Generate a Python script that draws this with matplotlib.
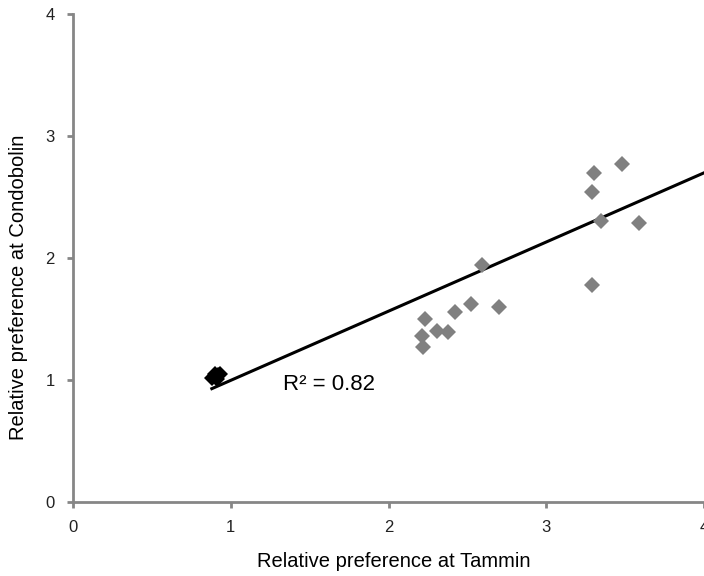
import numpy as np
import matplotlib
matplotlib.use("Agg")
from matplotlib import pyplot as plt

# gray points (Tammin, Condobolin)
tammin = [3.30, 3.48, 3.29, 3.35, 3.59, 3.29, 2.59, 2.52, 2.70, 2.42, 2.23, 2.21, 2.31, 2.38, 2.22]
condobolin = [2.70, 2.77, 2.54, 2.30, 2.29, 1.78, 1.94, 1.62, 1.60, 1.56, 1.50, 1.36, 1.40, 1.39, 1.27]

# black cluster near 1
ctrl_x = [0.88, 0.90, 0.92, 0.93, 0.91]
ctrl_y = [1.02, 1.05, 1.04, 1.05, 1.01]

# linear trendline
trend_slope = 0.567
trend_icpt = 0.43
trend_range = [0.88, 4.0]

axis_col = "#868686"
plt.rcParams["font.family"] = ["Liberation Sans", "DejaVu Sans"]

fig = plt.figure(figsize=(7.04, 5.76), dpi=100)
ax = fig.add_axes([0.1037, 0.1285, 0.8963, 0.8472])

tx = np.array(trend_range)
ax.plot(tx, trend_slope*tx + trend_icpt, color="black", lw=2.2, zorder=2)
ax.plot(tammin, condobolin, "D", color="#808080", ms=8, mew=0, zorder=3)
ax.plot(ctrl_x, ctrl_y, "D", color="black", ms=8, mew=0, zorder=3)

ax.text(1.33, 0.96, "R² = 0.82", fontsize=16, ha="left", va="center")

ax.set_xlim(0, 4)
ax.set_ylim(0, 4)
ax.set_xticks([0, 1, 2, 3, 4])
ax.set_yticks([0, 1, 2, 3, 4])
for s in ["top", "right"]:
    ax.spines[s].set_visible(False)
for s in ["left", "bottom"]:
    ax.spines[s].set_color(axis_col)
    ax.spines[s].set_linewidth(2)
ax.tick_params(colors=axis_col, width=2, length=4, labelsize=12, labelcolor="#222222", pad=9)
ax.set_xlabel("Relative preference at Tammin", fontsize=14.5)
ax.set_ylabel("Relative preference at Condobolin", fontsize=14.5)
ax.xaxis.set_label_coords(0.509, -0.102)
ax.yaxis.set_label_coords(-0.071, 0.44)

fig.savefig("out.png", dpi=100)
